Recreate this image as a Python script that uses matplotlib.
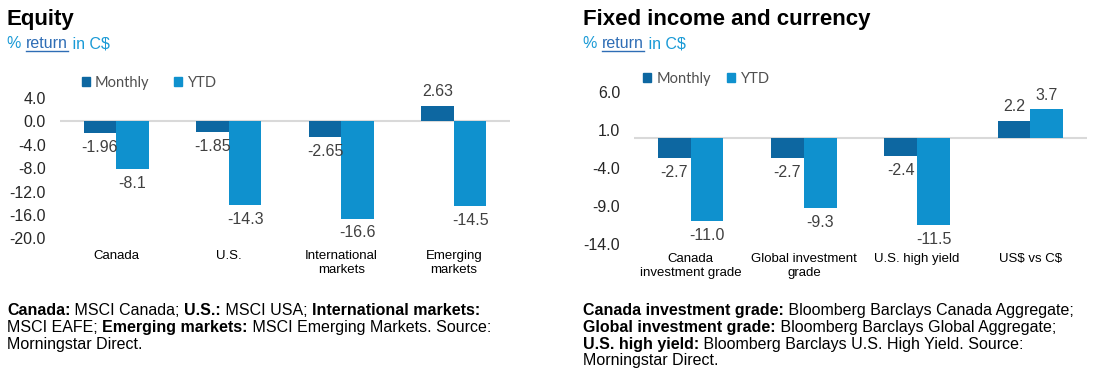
import numpy as np
import matplotlib
matplotlib.use("Agg")
import matplotlib.pyplot as plt
from matplotlib.ticker import FormatStrFormatter
from matplotlib.patches import Patch

plt.rcParams['font.family'] = ['Liberation Sans', 'DejaVu Sans']
plt.rcParams['axes.unicode_minus'] = False

# Equity (% return in C$)
eq_cats = ["Canada", "U.S.", "International\nmarkets", "Emerging\nmarkets"]
eq_monthly = [-1.96, -1.85, -2.65, 2.63]
eq_ytd = [-8.1, -14.3, -16.6, -14.5]
eq_ticks = [4, 0, -4, -8, -12, -16, -20]

# Fixed income and currency (% return in C$)
fi_cats = ["Canada\ninvestment grade", "Global investment\ngrade", "U.S. high yield", "US$ vs C$"]
fi_monthly = [-2.7, -2.7, -2.4, 2.2]
fi_ytd = [-11.0, -9.3, -11.5, 3.7]
fi_ticks = [6, 1, -4, -9, -14]

# footnotes: (text, bold) pieces per line
eq_note = [[("Canada:", True), (" MSCI Canada; ", False), ("U.S.:", True),
            (" MSCI USA; ", False), ("International markets:", True)],
           [("MSCI EAFE; ", False), ("Emerging markets:", True),
            (" MSCI Emerging Markets. Source:", False)],
           [("Morningstar Direct.", False)]]
fi_note = [[("Canada investment grade:", True), (" Bloomberg Barclays Canada Aggregate;", False)],
           [("Global investment grade:", True), (" Bloomberg Barclays Global Aggregate;", False)],
           [("U.S. high yield:", True), (" Bloomberg Barclays U.S. High Yield. Source:", False)],
           [("Morningstar Direct.", False)]]

C_MON = '#0D67A1'
C_YTD = '#0F91CE'
W, H = 1094, 388

fig = plt.figure(figsize=(W / 100, H / 100), dpi=100)
renderer = fig.canvas.get_renderer()


def px(x, y):
    return x / W, 1 - y / H


def seg_width(s, **kw):
    # width of a piece including its spaces
    a = fig.text(0, 0, "|" + s + "|", parse_math=False, **kw)
    b = fig.text(0, 0, "||", **kw)
    w = a.get_window_extent(renderer).width - b.get_window_extent(renderer).width
    a.remove()
    b.remove()
    return w


def rich_line(x, y, pieces, size, colors=None):
    xpos = x
    out = []
    for i, (s, bold) in enumerate(pieces):
        kw = dict(fontsize=size, fontweight='bold' if bold else 'normal')
        c = colors[i] if colors else 'black'
        t = fig.text(xpos / W, 1 - y / H, s, color=c, va='baseline',
                     parse_math=False, **kw)
        out.append((t, xpos))
        xpos += seg_width(s, **kw)
    return out


def draw_chart(rect, cats, mon, ytd, ticks, fmt_mon, fmt_ytd, xpad, leg_xy, colsp):
    ax = fig.add_axes(rect)
    x = np.arange(len(cats))
    w = 0.29
    b1 = ax.bar(x - w / 2, mon, w, color=C_MON, label='Monthly', zorder=2)
    b2 = ax.bar(x + w / 2, ytd, w, color=C_YTD, label='YTD', zorder=2)
    ax.bar_label(b1, fmt=fmt_mon, padding=5, fontsize=11.5, color='#404040')
    ax.bar_label(b2, fmt=fmt_ytd, padding=5, fontsize=11.5, color='#404040')
    ax.axhline(0, color='#d9d9d9', lw=1.5, zorder=1)
    ax.set_xlim(-0.5, len(cats) - 0.5)
    ax.set_ylim(min(ticks), max(ticks))
    ax.set_yticks(ticks)
    ax.yaxis.set_major_formatter(FormatStrFormatter('%.1f'))
    ax.set_xticks(x)
    ax.set_xticklabels(cats, fontsize=9.5, parse_math=False)
    ax.tick_params(axis='y', length=0, pad=10, labelsize=11.5, labelcolor='#262626')
    ax.tick_params(axis='x', length=0, pad=xpad)
    for s in ax.spines.values():
        s.set_visible(False)
    ax.patch.set_visible(False)
    for t in ax.texts:
        t.set_clip_on(False)
    handles = [Patch(color=C_MON), Patch(color=C_YTD)]
    ax.legend(handles, ['Monthly', 'YTD'], loc='center left',
              bbox_to_anchor=px(*leg_xy), bbox_transform=fig.transFigure,
              ncol=2, frameon=False, borderpad=0, borderaxespad=0,
              handlelength=0.55, handleheight=0.55, handletextpad=0.35,
              columnspacing=colsp, prop={'family': 'Lato', 'size': 10.5},
              labelcolor='#505050')
    return ax


def header(x, title):
    fig.text(*px(x, 25), title, fontsize=16, fontweight='bold', va='baseline')
    sub = [("% ", False), ("return", False), (" in C$", False)]
    segs = rich_line(x, 48, sub, 11.5, colors=['#1A9AD6', '#2E6DB5', '#1A9AD6'])
    r, _ = segs[1]
    rb = r.get_window_extent(renderer)
    fig.add_artist(plt.Line2D([rb.x0 / W, rb.x1 / W], [(H - 50.5) / H] * 2,
                              color='#2E6DB5', lw=1))


def note(x, lines):
    for i, line in enumerate(lines):
        rich_line(x, 315 + 16.8 * i, line, 11.5)


draw_chart([60 / W, 1 - 238.4 / H, 450 / W, 140.4 / H], eq_cats, eq_monthly, eq_ytd,
           eq_ticks, '%.2f', '%.1f', 8.5, (82, 83), 1.7)
draw_chart([634 / W, 1 - 244 / H, 453 / W, 152 / H], fi_cats, fi_monthly, fi_ytd,
           fi_ticks, '%.1f', '%.1f', 6.5, (643, 79), 1.15)

header(7, "Equity")
header(583, "Fixed income and currency")
note(7, eq_note)
note(583, fi_note)

fig.savefig("out.png", dpi=100)
